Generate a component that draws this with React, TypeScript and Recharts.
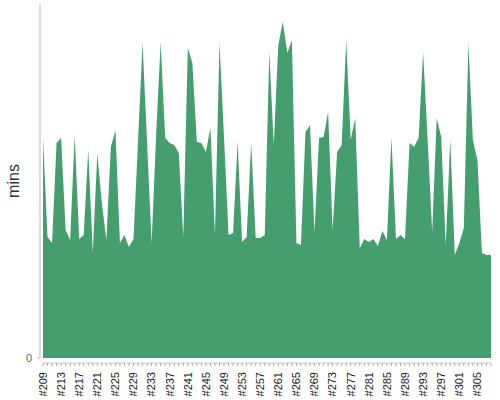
import React from 'react';
import { AreaChart, Area, XAxis, YAxis } from 'recharts';

const builds: string[] = Array.from({ length: 100 }, (_, i) => `#${209 + i}`);

const minutes: number[] = [
  220, 121, 115, 215, 220, 128, 118, 223, 119, 123,
  208, 105, 205, 155, 118, 211, 228, 115, 123, 111,
  119, 217, 315, 215, 115, 223, 316, 220, 215, 213,
  205, 121, 310, 295, 216, 215, 206, 230, 123, 315,
  221, 123, 125, 216, 116, 121, 215, 120, 120, 123,
  306, 213, 313, 336, 305, 318, 115, 113, 226, 233,
  126, 220, 221, 246, 128, 206, 213, 318, 218, 240,
  110, 119, 116, 119, 112, 127, 118, 220, 119, 123,
  119, 215, 211, 220, 306, 218, 126, 240, 221, 113,
  218, 103, 115, 130, 315, 218, 198, 105, 103, 103,
];

const yTicks: number[] = [0];

const data = builds.map((b, i) => ({ build: b, mins: minutes[i] }));

const XTick = (props: any) => {
  const { x, y, payload } = props;
  const idx = builds.indexOf(payload.value);
  if (idx % 4 !== 0) return null;
  return (
    <g transform={`translate(${x},${y + 4})`}>
      <text
        transform="rotate(-90)"
        textAnchor="end"
        dy="0.35em"
        fontSize={11}
        fill="#222"
        fontFamily="'Liberation Sans', Arial, sans-serif"
      >
        {payload.value}
      </text>
    </g>
  );
};

export default function App() {
  return (
    <div style={{ position: 'absolute', left: 0, top: 0, width: 500, height: 400, background: '#fff' }}>
      <AreaChart
        width={500}
        height={400}
        data={data}
        margin={{ top: 4, right: 9, bottom: 0, left: 0 }}
        style={{ fontFamily: "'Liberation Sans', Arial, sans-serif" }}
      >
        <XAxis
          dataKey="build"
          interval={0}
          height={37}
          padding={{ left: 3, right: 0 }}
          axisLine={{ stroke: '#c8c8c8', strokeDasharray: '0 3 800' }}
          tickLine={{ stroke: '#aaa' }}
          tickSize={3}
          tick={<XTick />}
        />
        <YAxis
          width={40}
          domain={[-5, 354]}
          allowDataOverflow
          ticks={yTicks}
          tickSize={3}
          tickMargin={5}
          axisLine={{ stroke: '#bbb', strokeDasharray: '354 20' }}
          tickLine={{ stroke: '#bbb' }}
          tick={{ fontSize: 11, fill: '#666' }}
          label={{
            content: () => (
              <text
                x={13}
                y={181}
                transform="rotate(-90 13 181)"
                textAnchor="middle"
                dominantBaseline="central"
                fontSize={16}
                fill="#333"
              >
                mins
              </text>
            ),
          }}
        />
        <Area
          type="linear"
          dataKey="mins"
          stroke="none"
          fill="#459e6e"
          fillOpacity={1}
          isAnimationActive={false}
        />
      </AreaChart>
    </div>
  );
}
